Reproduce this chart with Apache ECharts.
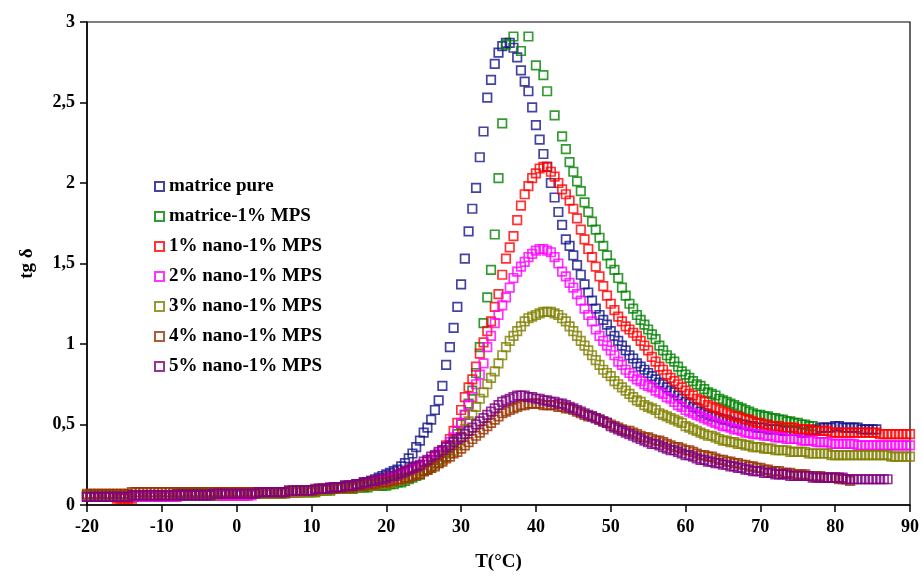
<!DOCTYPE html>
<html>
<head>
<meta charset="utf-8">
<script src="https://cdn.jsdelivr.net/npm/echarts@6/dist/echarts.min.js"></script>
<style>html,body{margin:0;padding:0;background:#fff}#c{width:922px;height:577px}</style>
</head>
<body>
<div id="c"></div>
<script>
// temperature grid (°C)
const temps = [-20,-19.5,-19,-18.5,-18,-17.5,-17,-16.5,-16,-15.5,-15,-14.5,-14,-13.5,-13,-12.5,-12,-11.5,-11,-10.5,-10,-9.5,-9,-8.5,-8,-7.5,-7,-6.5,-6,-5.5,-5,-4.5,-4,-3.5,-3,-2.5,-2,-1.5,-1,-0.5,0,0.5,1,1.5,2,2.5,3,3.5,4,4.5,5,5.5,6,6.5,7,7.5,8,8.5,9,9.5,10,10.5,11,11.5,12,12.5,13,13.5,14,14.5,15,15.5,16,16.5,17,17.5,18,18.5,19,19.5,20,20.5,21,21.5,22,22.5,23,23.5,24,24.5,25,25.5,26,26.5,27,27.5,28,28.5,29,29.5,30,30.5,31,31.5,32,32.5,33,33.5,34,34.5,35,35.5,36,36.5,37,37.5,38,38.5,39,39.5,40,40.5,41,41.5,42,42.5,43,43.5,44,44.5,45,45.5,46,46.5,47,47.5,48,48.5,49,49.5,50,50.5,51,51.5,52,52.5,53,53.5,54,54.5,55,55.5,56,56.5,57,57.5,58,58.5,59,59.5,60,60.5,61,61.5,62,62.5,63,63.5,64,64.5,65,65.5,66,66.5,67,67.5,68,68.5,69,69.5,70,70.5,71,71.5,72,72.5,73,73.5,74,74.5,75,75.5,76,76.5,77,77.5,78,78.5,79,79.5,80,80.5,81,81.5,82,82.5,83,83.5,84,84.5,85,85.5,86,86.5,87,87.5,88,88.5,89,89.5,90];

const matricePure = [
0.06,0.06,0.06,0.06,0.06,0.06,0.06,0.06,0.06,0.06,
0.06,0.06,0.06,0.06,0.06,0.06,0.06,0.06,0.06,0.06,
0.06,0.06,0.06,0.06,0.07,0.07,0.07,0.07,0.07,0.07,
0.07,0.07,0.07,0.07,0.07,0.07,0.07,0.07,0.07,0.07,
0.07,0.07,0.07,0.07,0.07,0.07,0.07,0.08,0.08,0.08,
0.08,0.08,0.08,0.08,0.08,0.08,0.09,0.09,0.09,0.09,
0.09,0.09,0.10,0.10,0.10,0.10,0.11,0.11,0.11,0.12,
0.12,0.12,0.13,0.13,0.14,0.14,0.15,0.16,0.17,0.18,
0.19,0.20,0.21,0.22,0.24,0.26,0.29,0.32,0.36,0.40,
0.45,0.48,0.53,0.59,0.65,0.74,0.87,0.98,1.10,1.23,
1.37,1.53,1.70,1.84,1.97,2.16,2.32,2.53,2.64,2.74,
2.81,2.85,2.87,2.87,2.84,2.78,2.70,2.63,2.57,2.47,
2.36,2.27,2.18,2.10,2.00,1.91,1.82,1.74,1.65,1.61,
1.55,1.49,1.43,1.37,1.32,1.27,1.22,1.18,1.15,1.12,
1.08,1.05,1.02,0.99,0.96,0.93,0.91,0.88,0.86,0.84,
0.82,0.80,0.78,0.76,0.75,0.73,0.71,0.70,0.68,0.66,
0.64,0.63,0.61,0.60,0.58,0.57,0.56,0.55,0.55,0.54,
0.53,0.53,0.52,0.51,0.51,0.50,0.50,0.49,0.49,0.48,
0.48,0.48,0.47,0.47,0.47,0.47,0.46,0.46,0.46,0.46,
0.46,0.45,0.45,0.46,0.46,0.47,0.48,0.48,0.48,0.48,
0.49,0.49,0.48,0.48,0.48,0.48,0.48,0.47,0.47,0.47,
0.47,0.47];

const matrice1MPS = [
0.05,0.05,0.05,0.05,0.05,0.05,0.05,0.05,0.05,0.05,
0.05,0.05,0.05,0.05,0.05,0.05,0.05,0.05,0.05,0.05,
0.06,0.06,0.06,0.06,0.06,0.06,0.06,0.06,0.06,0.06,
0.06,0.06,0.06,0.06,0.06,0.07,0.07,0.07,0.07,0.07,
0.07,0.07,0.07,0.07,0.07,0.07,0.07,0.07,0.07,0.07,
0.07,0.07,0.07,0.08,0.08,0.08,0.08,0.08,0.08,0.08,
0.08,0.08,0.09,0.09,0.09,0.09,0.10,0.10,0.10,0.10,
0.10,0.10,0.11,0.11,0.11,0.11,0.12,0.12,0.12,0.12,
0.12,0.13,0.13,0.14,0.14,0.15,0.16,0.17,0.18,0.19,
0.21,0.22,0.24,0.26,0.28,0.30,0.33,0.36,0.40,0.44,
0.50,0.56,0.63,0.71,0.82,0.98,1.13,1.29,1.46,1.68,
2.03,2.37,2.86,null,2.91,null,2.82,null,2.91,null,
2.73,null,2.67,2.57,null,2.42,null,2.29,2.21,2.13,
2.07,2.01,1.95,1.88,1.82,1.76,1.71,1.66,1.61,1.55,
1.50,1.46,1.41,1.35,1.30,1.25,1.22,1.18,1.15,1.12,
1.09,1.06,1.03,0.99,0.96,0.93,0.91,0.89,0.86,0.83,
0.81,0.79,0.77,0.75,0.74,0.72,0.70,0.69,0.68,0.66,
0.65,0.64,0.63,0.62,0.61,0.60,0.59,0.58,0.57,0.56,
0.56,0.55,0.55,0.54,0.54,0.53,0.53,0.52,0.52,0.51,
0.51,0.50,0.50,0.49,0.49];

const nano1 = [
0.05,0.05,0.05,0.05,0.05,0.05,0.05,0.05,0.04,0.04,
0.04,0.04,0.04,0.05,0.05,0.05,0.05,0.05,0.05,0.05,
0.05,0.05,0.05,0.05,0.06,0.06,0.06,0.06,0.06,0.06,
0.06,0.06,0.06,0.06,0.06,0.06,0.06,0.06,0.06,0.06,
0.06,0.06,0.06,0.06,0.07,0.07,0.07,0.07,0.07,0.07,
0.07,0.07,0.08,0.08,0.08,0.08,0.08,0.08,0.09,0.09,
0.09,0.09,0.09,0.10,0.10,0.10,0.10,0.11,0.11,0.11,
0.11,0.12,0.12,0.12,0.13,0.13,0.14,0.14,0.15,0.15,
0.16,0.16,0.17,0.18,0.19,0.20,0.21,0.22,0.23,0.24,
0.25,0.27,0.28,0.30,0.31,0.34,0.37,0.41,0.46,0.51,
0.59,0.67,0.73,0.78,0.86,0.94,1.01,1.08,1.14,1.23,
1.31,1.43,1.53,1.60,1.67,1.77,1.86,1.93,1.98,2.03,
2.06,2.09,2.10,2.10,2.07,2.04,2.00,1.96,1.93,1.89,
1.84,1.78,1.71,1.65,1.59,1.54,1.48,1.42,1.36,1.30,
1.25,1.21,1.17,1.14,1.11,1.09,1.07,1.05,1.02,0.99,
0.96,0.92,0.89,0.86,0.84,0.81,0.79,0.77,0.75,0.73,
0.71,0.69,0.68,0.66,0.65,0.64,0.62,0.61,0.60,0.59,
0.58,0.57,0.56,0.55,0.55,0.54,0.53,0.53,0.52,0.51,
0.51,0.50,0.50,0.49,0.49,0.49,0.48,0.48,0.48,0.48,
0.47,0.47,0.47,0.47,0.46,0.46,0.46,0.46,0.46,0.45,
0.45,0.45,0.45,0.45,0.45,0.45,0.45,0.45,0.45,0.45,
0.45,0.45,0.44,0.44,0.44,0.44,0.44,0.44,0.44,0.44,
0.44];

const nano2 = [
0.05,0.05,0.05,0.05,0.05,0.05,0.05,0.05,0.05,0.05,
0.05,0.05,0.05,0.05,0.05,0.05,0.05,0.05,0.05,0.05,
0.05,0.05,0.05,0.05,0.05,0.06,0.06,0.06,0.06,0.06,
0.06,0.06,0.06,0.06,0.06,0.06,0.06,0.06,0.06,0.06,
0.06,0.06,0.06,0.06,0.06,0.07,0.07,0.07,0.07,0.07,
0.07,0.07,0.07,0.08,0.08,0.08,0.08,0.08,0.09,0.09,
0.09,0.09,0.09,0.10,0.10,0.10,0.10,0.11,0.11,0.11,
0.11,0.12,0.12,0.12,0.13,0.13,0.14,0.14,0.15,0.15,
0.16,0.16,0.17,0.18,0.19,0.20,0.21,0.22,0.23,0.24,
0.25,0.27,0.28,0.30,0.32,0.34,0.36,0.39,0.42,0.46,
0.51,0.56,0.62,0.67,0.75,0.81,0.88,0.98,1.05,1.13,
1.18,1.24,1.29,1.35,1.41,1.45,1.48,1.51,1.54,1.56,
1.58,1.59,1.59,1.58,1.57,1.54,1.50,1.45,1.42,1.38,
1.35,1.31,1.27,1.22,1.18,1.14,1.09,1.05,1.02,0.99,
0.96,0.93,0.89,0.87,0.84,0.82,0.80,0.78,0.77,0.75,
0.74,0.73,0.71,0.70,0.69,0.67,0.66,0.64,0.62,0.61,
0.59,0.58,0.57,0.56,0.55,0.54,0.53,0.52,0.51,0.50,
0.49,0.49,0.48,0.47,0.47,0.46,0.45,0.45,0.44,0.44,
0.44,0.43,0.43,0.43,0.42,0.42,0.42,0.41,0.41,0.41,
0.41,0.40,0.40,0.40,0.40,0.39,0.39,0.39,0.39,0.38,
0.38,0.38,0.38,0.38,0.38,0.38,0.37,0.37,0.37,0.37,
0.37,0.37,0.37,0.37,0.37,0.37,0.37,0.37,0.37,0.37,
0.37];

const nano3 = [
0.06,0.06,0.06,0.06,0.06,0.06,0.06,0.06,0.06,0.06,
0.06,0.06,0.06,0.06,0.06,0.06,0.06,0.06,0.06,0.06,
0.06,0.06,0.06,0.06,0.06,0.06,0.06,0.06,0.06,0.06,
0.06,0.06,0.06,0.06,0.06,0.07,0.07,0.07,0.07,0.07,
0.07,0.07,0.07,0.07,0.07,0.07,0.07,0.07,0.07,0.07,
0.07,0.07,0.07,0.07,0.08,0.08,0.08,0.08,0.08,0.08,
0.08,0.08,0.09,0.09,0.09,0.09,0.10,0.10,0.10,0.10,
0.10,0.11,0.11,0.11,0.12,0.12,0.12,0.12,0.13,0.13,
0.13,0.14,0.14,0.15,0.16,0.16,0.17,0.18,0.19,0.20,
0.21,0.22,0.23,0.25,0.26,0.28,0.30,0.32,0.34,0.37,
0.42,0.47,0.52,0.56,0.61,0.66,0.70,0.75,0.79,0.83,
0.88,0.93,0.98,1.02,1.05,1.08,1.11,1.14,1.16,1.17,
1.18,1.19,1.20,1.20,1.20,1.19,1.18,1.16,1.14,1.11,
1.08,1.05,1.02,0.99,0.96,0.93,0.90,0.87,0.84,0.82,
0.80,0.77,0.75,0.73,0.71,0.69,0.67,0.65,0.64,0.62,
0.61,0.60,0.59,0.57,0.56,0.55,0.54,0.53,0.52,0.51,
0.49,0.48,0.47,0.46,0.45,0.44,0.43,0.43,0.42,0.41,
0.40,0.40,0.39,0.39,0.38,0.38,0.37,0.37,0.36,0.36,
0.36,0.35,0.35,0.35,0.34,0.34,0.34,0.34,0.33,0.33,
0.33,0.33,0.33,0.32,0.32,0.32,0.32,0.32,0.32,0.31,
0.31,0.31,0.31,0.31,0.31,0.31,0.31,0.31,0.31,0.31,
0.31,0.31,0.31,0.31,0.31,0.30,0.30,0.30,0.30,0.30,
0.30];

const nano4 = [
0.07,0.07,0.07,0.07,0.07,0.07,0.07,0.07,0.07,0.07,
0.07,0.07,0.08,0.08,0.08,0.08,0.08,0.08,0.08,0.08,
0.08,0.08,0.08,0.08,0.08,0.08,0.08,0.08,0.08,0.08,
0.08,0.08,0.08,0.08,0.08,0.08,0.08,0.08,0.08,0.08,
0.08,0.08,0.08,0.08,0.08,0.08,0.08,0.08,0.08,0.08,
0.08,0.08,0.08,0.08,0.09,0.09,0.09,0.09,0.09,0.09,
0.09,0.09,0.10,0.10,0.10,0.10,0.10,0.11,0.11,0.11,
0.11,0.11,0.12,0.12,0.12,0.13,0.13,0.13,0.14,0.14,
0.14,0.15,0.15,0.16,0.16,0.17,0.17,0.18,0.19,0.19,
0.21,0.22,0.23,0.24,0.26,0.27,0.29,0.30,0.32,0.33,
0.35,0.37,0.39,0.41,0.43,0.45,0.47,0.49,0.51,0.53,
0.55,0.57,0.58,0.59,0.60,0.61,0.62,0.62,0.63,0.63,
0.63,0.63,0.62,0.62,0.62,0.62,0.61,0.61,0.60,0.60,
0.59,0.58,0.57,0.56,0.55,0.55,0.54,0.53,0.52,0.51,
0.50,0.49,0.48,0.47,0.46,0.46,0.45,0.44,0.43,0.42,
0.42,0.41,0.40,0.40,0.39,0.38,0.37,0.36,0.36,0.35,
0.34,0.34,0.33,0.32,0.31,0.31,0.30,0.30,0.29,0.28,
0.28,0.27,0.27,0.26,0.26,0.25,0.25,0.24,0.24,0.23,
0.23,0.22,0.22,0.21,0.21,0.21,0.20,0.20,0.20,0.19,
0.19,0.19,0.19,0.18,0.18,0.18,0.18,0.17,0.17,0.17,
0.17,0.16,0.16,0.16,0.15];

const nano5 = [
0.05,0.05,0.05,0.05,0.05,0.05,0.05,0.05,0.05,0.05,
0.05,0.05,0.06,0.06,0.06,0.06,0.06,0.06,0.06,0.06,
0.06,0.06,0.06,0.06,0.06,0.06,0.06,0.06,0.06,0.06,
0.06,0.06,0.06,0.06,0.07,0.07,0.07,0.07,0.07,0.07,
0.07,0.07,0.07,0.07,0.07,0.07,0.08,0.08,0.08,0.08,
0.08,0.08,0.08,0.08,0.09,0.09,0.09,0.09,0.09,0.09,
0.09,0.10,0.10,0.10,0.10,0.11,0.11,0.11,0.11,0.12,
0.12,0.12,0.13,0.13,0.14,0.14,0.15,0.15,0.16,0.16,
0.17,0.18,0.18,0.19,0.20,0.21,0.22,0.23,0.24,0.25,
0.27,0.28,0.30,0.31,0.33,0.34,0.36,0.37,0.39,0.41,
0.42,0.44,0.46,0.48,0.50,0.52,0.54,0.56,0.58,0.60,
0.62,0.64,0.65,0.66,0.67,0.68,0.68,0.68,0.67,0.67,
0.66,0.66,0.65,0.65,0.64,0.64,0.63,0.63,0.62,0.61,
0.60,0.59,0.58,0.57,0.56,0.55,0.54,0.53,0.52,0.51,
0.49,0.48,0.47,0.46,0.45,0.44,0.43,0.42,0.41,0.40,
0.39,0.38,0.38,0.37,0.36,0.35,0.34,0.34,0.33,0.32,
0.31,0.31,0.30,0.29,0.28,0.28,0.27,0.27,0.26,0.26,
0.25,0.25,0.24,0.24,0.23,0.23,0.22,0.22,0.21,0.21,
0.21,0.20,0.20,0.20,0.19,0.19,0.19,0.19,0.18,0.18,
0.18,0.18,0.18,0.18,0.17,0.17,0.17,0.17,0.17,0.17,
0.17,0.17,0.17,0.16,0.16,0.16,0.16,0.16,0.16,0.16,
0.16,0.16,0.16,0.16,0.16];

const seriesNames = ['matrice pure','matrice-1% MPS','1% nano-1% MPS','2% nano-1% MPS','3% nano-1% MPS','4% nano-1% MPS','5% nano-1% MPS'];
const seriesValues = [matricePure, matrice1MPS, nano1, nano2, nano3, nano4, nano5];
const seriesColors = ['#14148a','#008200','#ff0000','#ff00ff','#808000','#993300','#800080'];
const xTicks = {min:-20, max:90, step:10};
const yTicks = {min:0, max:3, step:0.5};

const FONT = '"Liberation Serif","Times New Roman",serif';
const txt = {fontFamily: FONT, fontWeight:'bold', fontSize:18, color:'#000'};

const chart = echarts.init(document.getElementById('c'), null, {renderer:'canvas'});
const series = seriesNames.map((name, k) => ({
  name: name,
  type: 'scatter',
  symbol: 'rect',
  symbolSize: 8.5,
  data: temps.map((t, i) => [t, seriesValues[k][i]]).filter(p => p[1] != null),
  itemStyle: {color: 'rgba(255,255,255,0)', borderColor: seriesColors[k], borderWidth: 1.7},
  emphasis: {disabled: true},
  z: 2 + k
}));

chart.setOption({
  animation: false,
  backgroundColor: '#fff',
  grid: {left: 87, right: 12, top: 22, bottom: 71, show: true, borderColor: '#000', borderWidth: 1.2, backgroundColor: 'rgba(0,0,0,0)'},
  legend: {
    orient: 'vertical', left: 149, top: 172,
    itemWidth: 9, itemHeight: 9, itemGap: 11, itemTextGap: 7,
    icon: 'rect',
    textStyle: Object.assign({}, txt, {fontSize: 19}),
    data: seriesNames
  },
  xAxis: {
    type: 'value', min: xTicks.min, max: xTicks.max, interval: xTicks.step,
    name: 'T(°C)', nameLocation: 'middle', nameGap: 48,
    nameTextStyle: Object.assign({}, txt, {fontSize: 19}),
    axisLine: {onZero: false, lineStyle: {color: '#000', width: 1.5}},
    axisTick: {length: 7, lineStyle: {color: '#000', width: 1.5}},
    axisLabel: Object.assign({margin: 13}, txt),
    splitLine: {show: false}
  },
  yAxis: {
    type: 'value', min: yTicks.min, max: yTicks.max, interval: yTicks.step,
    name: 'tg δ', nameLocation: 'middle', nameGap: 50, nameRotate: 90,
    nameTextStyle: Object.assign({}, txt, {fontSize: 19}),
    axisLine: {onZero: false, lineStyle: {color: '#000', width: 1.5}},
    axisTick: {length: 7, lineStyle: {color: '#000', width: 1.5}},
    axisLabel: Object.assign({margin: 12, formatter: v => String(v).replace('.', ',')}, txt),
    splitLine: {show: false}
  },
  series: series
});
</script>
</body>
</html>
